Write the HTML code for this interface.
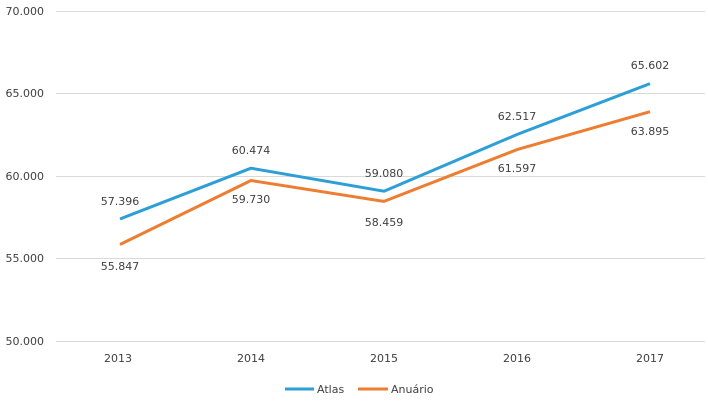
<!DOCTYPE html>
<html><head><meta charset="utf-8"><style>
body{margin:0;background:#fff}
svg text{font-family:"DejaVu Sans","Liberation Sans",sans-serif;font-size:11px;fill:#404040}
</style></head><body>
<svg width="708" height="402" xmlns="http://www.w3.org/2000/svg">
<g stroke="#d9d9d9" stroke-width="1">
<line x1="56" x2="705" y1="11.5" y2="11.5"/>
<line x1="56" x2="705" y1="93.5" y2="93.5"/>
<line x1="56" x2="705" y1="176.5" y2="176.5"/>
<line x1="56" x2="705" y1="258.5" y2="258.5"/>
<line x1="56" x2="705" y1="341.5" y2="341.5"/>
</g>
<g text-anchor="end">
<text x="44" y="15">70.000</text>
<text x="44" y="97">65.000</text>
<text x="44" y="180">60.000</text>
<text x="44" y="262">55.000</text>
<text x="44" y="345">50.000</text>
</g>
<g text-anchor="middle">
<text x="118" y="362">2013</text>
<text x="251" y="362">2014</text>
<text x="384" y="362">2015</text>
<text x="517" y="362">2016</text>
<text x="650" y="362">2017</text>
</g>
<polyline fill="none" stroke="#ed7d31" stroke-width="3" stroke-linejoin="round" points="120,244.5 251,180.5 384,201.4 517,149.6 650,111.7"/>
<polyline fill="none" stroke="#2e9fd6" stroke-width="3" stroke-linejoin="round" points="120,219 251,168.2 384,191.2 517,134.5 650,83.6"/>
<g text-anchor="middle">
<text x="120" y="205">57.396</text>
<text x="251" y="154">60.474</text>
<text x="384" y="177">59.080</text>
<text x="517" y="120">62.517</text>
<text x="650" y="69">65.602</text>
<text x="120" y="270">55.847</text>
<text x="251" y="203">59.730</text>
<text x="384" y="226">58.459</text>
<text x="517" y="172">61.597</text>
<text x="650" y="135">63.895</text>
</g>
<line x1="285" x2="314" y1="389" y2="389" stroke="#2e9fd6" stroke-width="3"/>
<text x="317" y="393">Atlas</text>
<line x1="358" x2="388" y1="389" y2="389" stroke="#ed7d31" stroke-width="3"/>
<text x="391" y="393">Anuário</text>
</svg>
</body></html>
